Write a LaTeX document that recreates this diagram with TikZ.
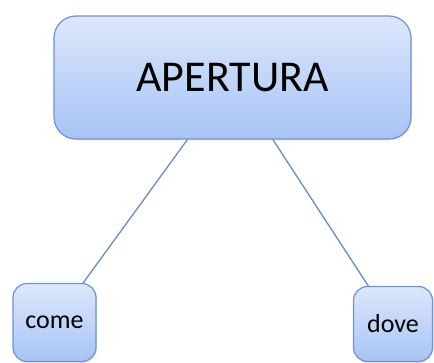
\documentclass[tikz,border=0pt]{standalone}
\usepackage{fontspec}
\setmainfont{Carlito}
\usepackage{tikz}
\usetikzlibrary{shapes,arrows,positioning,shadows}

\definecolor{boxtop}{HTML}{DCE7FB}
\definecolor{boxbottom}{HTML}{A7C4F6}
\definecolor{boxline}{HTML}{6F93CF}
\definecolor{linkline}{HTML}{6A8BC4}

\begin{document}
\begin{tikzpicture}[x=1pt,y=-1pt,
	box/.style={draw=boxline, line width=1.2pt, top color=boxtop, bottom color=boxbottom,
		drop shadow={opacity=0.2, shadow xshift=1pt, shadow yshift=-1.5pt}},
	link/.style={draw=linkline, line width=1.3pt}]
	\useasboundingbox (0,0) rectangle (434,363);
	\node[box, rounded corners=22pt, minimum width=357pt, minimum height=123pt,
		font=\fontsize{44}{50}\selectfont] (main) at (232.5,77.5) {APERTURA};
	\node[box, rounded corners=14pt, minimum width=83pt, minimum height=78pt,
		font=\fontsize{26}{30}\selectfont] (come) at (54.5,322.5) {come};
	\node[box, rounded corners=14pt, minimum width=79pt, minimum height=75pt,
		font=\fontsize{26}{30}\selectfont] (dove) at (393,324) {dove};
	
	\path [link] (main) edge (come);
	\path [link] (main) edge (dove);
\end{tikzpicture}
\end{document}
